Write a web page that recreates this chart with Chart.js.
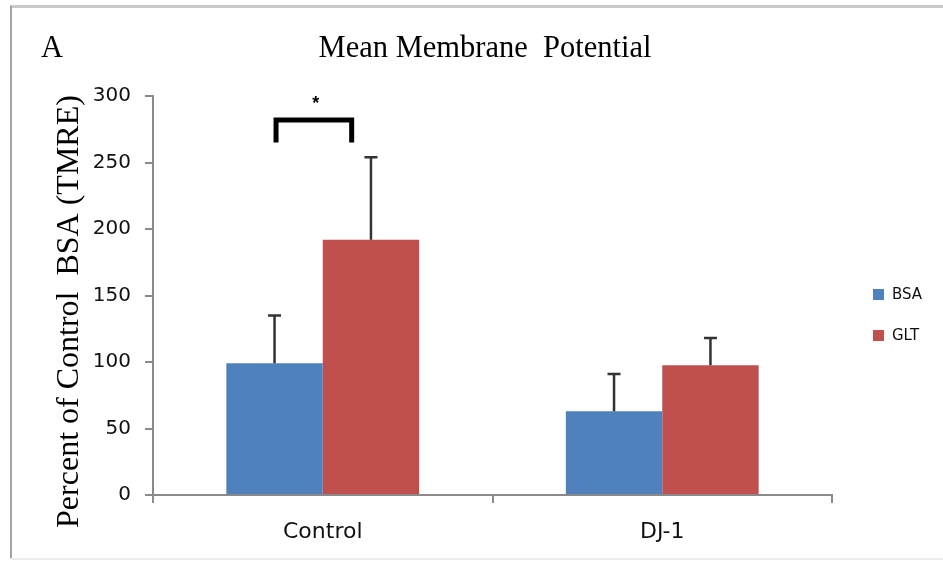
<!DOCTYPE html>
<html>
<head>
<meta charset="utf-8">
<title>Mean Membrane Potential</title>
<script src="https://cdn.jsdelivr.net/npm/chart.js@4.4.0/dist/chart.umd.min.js"></script>
<style>
    body { margin: 0; background: #fff; }
    canvas { display: block; }
</style>
</head>
<body>
<canvas id="chart" width="943" height="561"></canvas>
<script>
// values
const groups = ['Control', 'DJ-1'];
const seriesNames = ['BSA', 'GLT'];
const bsaValues = [99, 63];
const gltValues = [192, 97.5];
const bsaErrors = [36, 28];
const gltErrors = [62, 20.5];
const yTicks = [0, 50, 100, 150, 200, 250, 300];

const colors = ['#4F81BD', '#C0504D'];
const axisColor = '#8a8a8a';

// significance bracket between Control BSA and Control GLT
const bracketTop = 282;
const bracketLeg = 265;
const starValue = 296;

function drawErrors(chart, datasetIndex, errors) {
    const ctx = chart.ctx;
    const y = chart.scales.y;
    const meta = chart.getDatasetMeta(datasetIndex);
    const values = chart.data.datasets[datasetIndex].data;
    ctx.save();
    ctx.strokeStyle = '#333';
    ctx.lineWidth = 2.5;
    meta.data.forEach((bar, i) => {
        const top = y.getPixelForValue(values[i] + errors[i]);
        ctx.beginPath();
        ctx.moveTo(bar.x, bar.y);
        ctx.lineTo(bar.x, top);
        ctx.moveTo(bar.x - 6.5, top);
        ctx.lineTo(bar.x + 6.5, top);
        ctx.stroke();
    });
    ctx.restore();
}

const extras = {
    id: 'extras',
    beforeDraw(chart) {
        const ctx = chart.ctx;
        ctx.save();
        // picture frame
        ctx.fillStyle = '#c9c9c9';
        ctx.fillRect(10, 5, 933, 3);
        ctx.fillStyle = '#a3a3a3';
        ctx.fillRect(10, 6, 2, 553);
        ctx.fillStyle = '#ececec';
        ctx.fillRect(10, 558, 933, 2);
        ctx.restore();
    },
    afterDatasetsDraw(chart) {
        drawErrors(chart, 0, bsaErrors);
        drawErrors(chart, 1, gltErrors);

        const ctx = chart.ctx;
        const y = chart.scales.y;
        const bsaBar = chart.getDatasetMeta(0).data[0];
        const gltBar = chart.getDatasetMeta(1).data[0];
        const left = bsaBar.x + 1.5;
        const right = gltBar.x - gltBar.width * 0.2;
        const top = y.getPixelForValue(bracketTop);
        const leg = y.getPixelForValue(bracketLeg);

        ctx.save();
        ctx.strokeStyle = '#000';
        ctx.lineWidth = 5;
        ctx.lineJoin = 'miter';
        ctx.beginPath();
        ctx.moveTo(left, leg);
        ctx.lineTo(left, top);
        ctx.lineTo(right, top);
        ctx.lineTo(right, leg);
        ctx.stroke();

        ctx.fillStyle = '#000';
        ctx.font = 'bold 18px "Liberation Sans"';
        ctx.textAlign = 'center';
        ctx.textBaseline = 'alphabetic';
        ctx.fillText('*', (left + right) / 2 + 2, y.getPixelForValue(starValue) + 8);
        ctx.restore();
    },
    afterDraw(chart) {
        const ctx = chart.ctx;
        const area = chart.chartArea;
        ctx.save();
        ctx.fillStyle = '#000';
        ctx.textBaseline = 'alphabetic';

        // title and panel letter
        ctx.font = '30.5px "Liberation Serif"';
        ctx.textAlign = 'left';
        ctx.fillText('A', 41, 57);
        ctx.textAlign = 'center';
        ctx.fillText('Mean Membrane  Potential', 485, 57);

        // y axis title
        ctx.save();
        ctx.translate(70, (area.top + area.bottom) / 2 + 16);
        ctx.rotate(-Math.PI / 2);
        ctx.font = '32px "Liberation Serif"';
        ctx.textBaseline = 'middle';
        ctx.fillText('Percent of Control  BSA (TMRE)', 0, 0);
        ctx.restore();

        // legend
        ctx.font = '15px "DejaVu Sans"';
        ctx.textAlign = 'left';
        ctx.textBaseline = 'middle';
        seriesNames.forEach((name, i) => {
            const cy = 294 + i * 41;
            ctx.fillStyle = colors[i];
            ctx.fillRect(873, cy - 5, 11, 11);
            ctx.fillStyle = '#111';
            ctx.fillText(name, 892, cy + 1);
        });
        ctx.restore();
    }
};

new Chart(document.getElementById('chart'), {
    type: 'bar',
    data: {
        labels: groups,
        datasets: [
            { label: seriesNames[0], data: bsaValues, backgroundColor: colors[0] },
            { label: seriesNames[1], data: gltValues, backgroundColor: colors[1] }
        ]
    },
    options: {
        responsive: false,
        animation: false,
        devicePixelRatio: 1,
        categoryPercentage: 0.568,
        barPercentage: 1,
        layout: { padding: { top: 96, right: 111, bottom: 0, left: 0 } },
        plugins: {
            legend: { display: false },
            title: { display: false },
            tooltip: { enabled: false }
        },
        scales: {
            x: {
                grid: { drawOnChartArea: false, color: axisColor, lineWidth: 2, tickLength: 8 },
                border: { color: axisColor, width: 2 },
                ticks: { color: '#111', font: { family: 'DejaVu Sans', size: 22 }, padding: 16 },
                afterFit: scale => { scale.height = 66; }
            },
            y: {
                min: 0,
                max: 300,
                afterBuildTicks: scale => { scale.ticks = yTicks.map(v => ({ value: v })); },
                grid: { drawOnChartArea: false, color: axisColor, lineWidth: 2, tickLength: 8 },
                border: { color: axisColor, width: 2 },
                ticks: { color: '#111', font: { family: 'DejaVu Sans', size: 20 }, padding: 14 },
                afterFit: scale => { scale.width = 153; }
            }
        }
    },
    plugins: [extras]
});
</script>
</body>
</html>
